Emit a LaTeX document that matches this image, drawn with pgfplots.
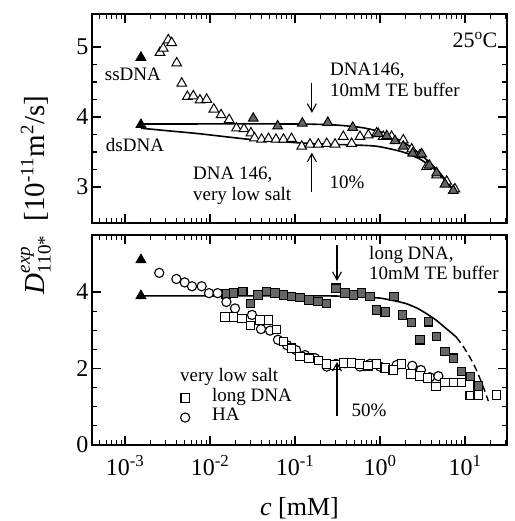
\documentclass[border=0pt]{standalone}
\usepackage{fix-cm}
\usepackage{amsmath}
\usepackage{pgfplots}
\pgfplotsset{compat=1.18}
\usetikzlibrary{arrows.meta}
\usepackage{fontspec}
\setmainfont{Liberation Serif}
\DeclareMathSizes{29}{29}{19}{14}
\definecolor{dgray}{gray}{0.40}
\newcommand\af{\fontsize{19}{20.5}\selectfont}
\pgfplotsset{
  opentri/.style={only marks, mark=triangle*, mark size=5.6pt, mark options={fill=white, draw=black, line width=1pt}},
  graytri/.style={only marks, mark=triangle*, mark size=5.6pt, mark options={fill=dgray, draw=black, line width=1pt}},
  blacktri/.style={only marks, mark=triangle*, mark size=5.6pt, mark options={fill=black, draw=black, line width=1pt}},
  opensq/.style={only marks, mark=square*, mark size=4.2pt, mark options={fill=white, draw=black, line width=1.1pt}},
  graysq/.style={only marks, mark=square*, mark size=4.2pt, mark options={fill=dgray, draw=black, line width=1.1pt}},
  opencirc/.style={only marks, mark=*, mark size=4.6pt, mark options={fill=white, draw=black, line width=1.1pt}},
}
\tikzset{arr/.style={line width=1.1pt, -{Straight Barb[length=8pt,width=9pt]}}}
\begin{document}
\begin{tikzpicture}
\path[use as bounding box] (0pt,0pt) rectangle (514pt,521pt);
% ---------------- top panel ----------------
\begin{axis}[
  scale only axis, width=415pt,
  xmode=log, xmin=4.09e-4, xmax=31.2,
  xtick={1e-3,1e-2,1e-1,1,10},
  minor xtick={5e-4,6e-4,7e-4,8e-4,9e-4,2e-3,3e-3,4e-3,5e-3,6e-3,7e-3,8e-3,9e-3,2e-2,3e-2,4e-2,5e-2,6e-2,7e-2,8e-2,9e-2,0.2,0.3,0.4,0.5,0.6,0.7,0.8,0.9,2,3,4,5,6,7,8,9,20,30},
  tick align=inside, xtick pos=both, ytick pos=both,
  major tick length=9pt, minor tick length=5pt,
  axis line style={line width=1.3pt},
  every tick/.style={black, line width=1.1pt},
  tick label style={font=\fontsize{24}{26}\selectfont},
  minor y tick num=3,
  clip=false,
  at={(92pt,298pt)}, anchor=south west, height=209pt,
  ymin=2.486, ymax=5.471, ytick={3,4,5}, yticklabels={3,4,5}, xticklabels={}]
\addplot[black, line width=1.6pt, smooth, tension=0.4] coordinates {
(0.00154,3.90) (0.1,3.90) (0.3,3.885) (0.6,3.85) (1.0,3.79) (1.5,3.70) (2.0,3.62) (2.9,3.48) (4.0,3.33) (5.0,3.21) (6.0,3.09) (7.3,2.96)};
\addplot[black, line width=1.6pt, smooth, tension=0.4] coordinates {
(0.00154,3.84) (0.0034,3.80) (0.0076,3.76) (0.0295,3.68) (0.114,3.63) (0.26,3.61) (0.51,3.60) (0.94,3.58) (1.86,3.50) (2.94,3.40) (4.7,3.22) (7.2,2.96)};
\addplot[opentri] coordinates {
(0.00258,4.92) (0.00282,4.98) (0.00323,5.10) (0.00354,5.06) (0.00406,4.77) (0.00465,4.48)
(0.00541,4.29) (0.00637,4.30) (0.00762,4.24) (0.00914,4.25) (0.0111,4.11) (0.0135,4.03)
(0.0168,3.96) (0.0205,3.84) (0.0251,3.83) (0.0303,3.77) (0.0334,3.70) (0.0404,3.68)
(0.0488,3.69) (0.0597,3.68) (0.0732,3.68) (0.091,3.69) (0.120,3.58) (0.150,3.61)
(0.188,3.61) (0.236,3.62) (0.296,3.61) (0.370,3.72) (0.464,3.62) (0.582,3.72)
(0.728,3.74) (0.914,3.77) (1.09,3.72) (1.37,3.72) (1.88,3.67) (2.36,3.54)
(2.96,3.46) (3.54,3.29) (4.64,3.17) (6.09,3.08) (7.62,2.97)};
\addplot[graytri] coordinates {
(0.0323,3.98) (0.0625,3.87) (0.122,3.91) (0.243,3.92) (0.478,3.85) (0.955,3.76)
(1.20,3.73) (1.50,3.66) (1.88,3.58) (2.42,3.48) (3.10,3.47) (3.80,3.31)
(4.64,3.20) (5.82,3.04) (7.28,2.95)};
\addplot[blacktri] coordinates {(0.00154,4.85) (0.00154,3.89)};
\node[font=\fontsize{22}{24}\selectfont] at (axis cs:13.1,5.10) {25\textsuperscript{o}C};
\node[font=\af] at (axis cs:0.00124,4.61) {ssDNA};
\node[font=\af] at (axis cs:0.00131,3.60) {dsDNA};
\node[font=\af, anchor=north west, align=left, inner sep=0pt] at (axis cs:0.258,4.77) {DNA146,\\10mM TE buffer};
\node[font=\af, anchor=north west, align=left, inner sep=0pt] at (axis cs:0.0063,3.286) {DNA 146,\\very low salt};
\node[font=\af] at (axis cs:0.409,3.07) {10\%};
\coordinate (t1) at (axis cs:0.158,4.49);
\coordinate (t2) at (axis cs:0.158,4.06);
\coordinate (t3) at (axis cs:0.158,2.93);
\coordinate (t4) at (axis cs:0.158,3.49);
\end{axis}
% ---------------- bottom panel ----------------
\begin{axis}[
  scale only axis, width=415pt,
  xmode=log, xmin=4.09e-4, xmax=31.2,
  xtick={1e-3,1e-2,1e-1,1,10},
  minor xtick={5e-4,6e-4,7e-4,8e-4,9e-4,2e-3,3e-3,4e-3,5e-3,6e-3,7e-3,8e-3,9e-3,2e-2,3e-2,4e-2,5e-2,6e-2,7e-2,8e-2,9e-2,0.2,0.3,0.4,0.5,0.6,0.7,0.8,0.9,2,3,4,5,6,7,8,9,20,30},
  tick align=inside, xtick pos=both, ytick pos=both,
  major tick length=9pt, minor tick length=5pt,
  axis line style={line width=1.3pt},
  every tick/.style={black, line width=1.1pt},
  tick label style={font=\fontsize{24}{26}\selectfont},
  xticklabel style={yshift=-7pt},
  minor y tick num=3,
  clip=false,
  at={(92pt,76pt)}, anchor=south west, height=210pt,
  ymin=0, ymax=5.49, ytick={0,2,4}, yticklabels={0,2,4},
  xticklabels={10\textsuperscript{-3},10\textsuperscript{-2},10\textsuperscript{-1},10\textsuperscript{0},10\textsuperscript{1}},
  xlabel={\textit{c} [mM]}, xlabel style={font=\fontsize{26}{28}\selectfont, yshift=-15pt},
  legend style={at={(0.2036,0.271)}, anchor=north west, draw=none, fill=none, inner sep=0pt, row sep=0pt,
    font=\af, nodes={inner xsep=2pt, inner ysep=0pt, text height=13pt, text depth=6.5pt}},
  legend cell align=left,
  legend image code/.code={\path[draw=none, fill=none] (0pt,0pt) -- (33.5pt,0pt); \draw[#1] plot coordinates {(8.5pt,0pt)};},
]
\addlegendimage{opensq}\addlegendentry{long DNA}
\addlegendimage{opencirc}\addlegendentry{HA}
\addplot[black, line width=1.6pt, smooth, tension=0.4] coordinates {
(0.00154,3.90) (0.1,3.90) (0.3,3.895) (0.6,3.87) (1.0,3.84) (1.41,3.78) (2.0,3.70) (2.72,3.58) (3.6,3.42) (4.6,3.26) (5.6,3.10) (6.6,2.97) (7.9,2.82)};
\addplot[black, line width=1.4pt, dash pattern=on 7pt off 4pt, smooth, tension=0.4] coordinates {
(7.9,2.82) (9.5,2.58) (11.5,2.28) (13.5,1.98) (15.5,1.66) (17.5,1.35) (18.8,1.15)};
\addplot[graysq] coordinates {
(0.0155,3.95) (0.0188,3.97) (0.0243,4.01) (0.0301,3.70) (0.0367,3.92) (0.0465,4.01)
(0.0582,3.97) (0.0728,3.92) (0.0914,3.88) (0.1146,3.86) (0.146,3.79) (0.187,3.75)
(0.236,3.70) (0.303,4.10) (0.387,3.97) (0.485,3.92) (0.609,3.97) (0.763,3.88)
(0.914,3.53) (1.15,3.48) (1.46,3.88) (1.85,3.40) (2.36,3.20) (2.96,2.75)
(3.70,3.22) (4.64,2.83) (5.82,2.44) (7.28,2.27) (9.14,1.92) (11.5,1.79) (14.3,1.54)};
\addplot[opencirc] coordinates {
(0.00253,4.50) (0.00402,4.34) (0.00504,4.25) (0.00614,4.15) (0.00798,4.15) (0.00973,3.97)
(0.0123,3.97) (0.0156,3.74) (0.0197,3.57) (0.0312,3.40) (0.0398,3.03) (0.0508,2.99)
(0.0631,2.75) (0.0805,2.61) (0.103,2.48) (0.131,2.35) (0.172,2.27) (0.236,2.05)
(0.303,2.12) (0.387,2.14) (0.582,2.05) (0.763,2.12) (1.0,2.05) (1.57,2.09)
(2.40,2.07) (3.03,1.96) (3.87,1.77) (4.86,1.80)};
\addplot[opensq] coordinates {
(0.0150,3.35) (0.0188,3.35) (0.0238,3.31) (0.0298,3.12) (0.0388,3.27) (0.0485,3.27)
(0.0603,3.02) (0.0728,2.70) (0.0914,2.53) (0.1146,2.31) (0.146,2.27) (0.188,2.21)
(0.236,2.12) (0.296,2.09) (0.370,2.14) (0.464,2.14) (0.582,2.12) (0.723,2.07)
(0.914,2.12) (1.15,2.01) (1.43,1.96) (1.80,2.12) (2.32,1.86) (2.96,1.80)
(3.60,1.75) (4.56,1.53) (5.82,1.63) (7.28,1.63) (9.14,1.63) (11.5,1.29)
(14.3,1.31) (23.6,1.31)};
\addplot[blacktri] coordinates {(0.00154,4.84) (0.00154,3.90)};
\node[font=\af, anchor=north west, align=left, inner sep=0pt] at (axis cs:0.743,5.20) {long DNA,\\10mM TE buffer};
\node[font=\af, anchor=west, inner sep=0pt] at (axis cs:0.00443,1.78) {very low salt};
\node[font=\af] at (axis cs:0.743,0.915) {50\%};
\coordinate (b1) at (axis cs:0.312,5.23);
\coordinate (b2) at (axis cs:0.312,4.29);
\coordinate (b3) at (axis cs:0.312,0.76);
\coordinate (b4) at (axis cs:0.312,2.17);
\end{axis}
\draw[arr] (t1) -- (t2);
\draw[arr] (t3) -- (t4);
\draw[arr] (b1) -- (b2);
\draw[arr] (b3) -- (b4);
\node[rotate=90, anchor=base, font=\fontsize{29}{31}\selectfont] at (44pt,326pt)
  {$\textit{D}^{\textit{exp}}_{\text{110*}}$\hspace{14pt}[10\textsuperscript{-11}m\textsuperscript{2}/s]};
\end{tikzpicture}
\end{document}
